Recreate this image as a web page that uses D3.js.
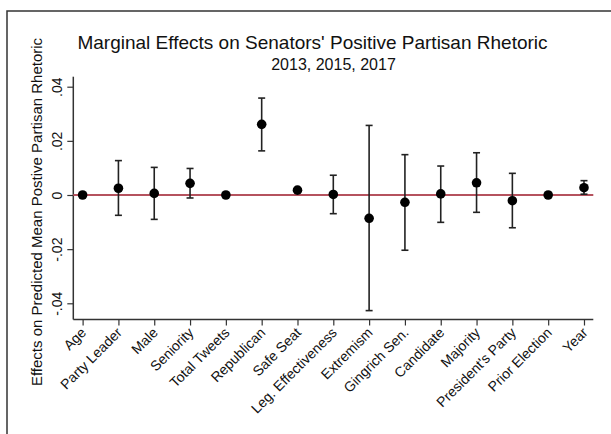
<!DOCTYPE html>
<html>
<head>
<meta charset="utf-8">
<script src="https://cdn.jsdelivr.net/npm/d3@7"></script>
<style>
  html, body { margin: 0; padding: 0; background: #fff; }
  svg { display: block; font-family: "Liberation Sans", Arial, Helvetica, sans-serif; }
</style>
</head>
<body>
<svg id="chart" width="611" height="434"></svg>
<script>
const categories = ["Age", "Party Leader", "Male", "Seniority", "Total Tweets", "Republican",
  "Safe Seat", "Leg. Effectiveness", "Extremism", "Gingrich Sen.", "Candidate", "Majority",
  "President's Party", "Prior Election", "Year"];
const estimates = [0.0000, 0.0025, 0.0006, 0.0043, 0.0000, 0.0261, 0.0018, 0.0002,
  -0.0086, -0.0027, 0.0004, 0.0045, -0.0021, 0.0000, 0.0027];
const ciUpper = [0.0000, 0.0127, 0.0102, 0.0098, 0.0000, 0.0358, 0.0018, 0.0073,
  0.0257, 0.0149, 0.0107, 0.0156, 0.0080, 0.0000, 0.0053];
const ciLower = [0.0000, -0.0075, -0.0090, -0.0011, 0.0000, 0.0163, 0.0018, -0.0069,
  -0.0427, -0.0204, -0.0101, -0.0064, -0.0121, 0.0000, 0.0003];
const yTicks = [-0.04, -0.02, 0, 0.02, 0.04];
const yTickLabels = ["-.04", "-.02", "0", ".02", ".04"];

const svg = d3.select("#chart");

// outer frame (extends past the right/bottom edge)
svg.append("rect").attr("x", 7).attr("y", 11).attr("width", 620).attr("height", 440)
  .attr("fill", "none").attr("stroke", "#333").attr("stroke-width", 1.5);

const left = 73.3, right = 593.3, yTop = 76.7, yBottom = 319.5;

const x = d3.scalePoint().domain(categories).range([left, right]).padding(0.26);
const y = d3.scaleLinear().domain([-0.04, 0.04]).range([303.3, 86.7]);

// titles
svg.append("text").attr("x", 312.5).attr("y", 48.5).attr("text-anchor", "middle")
  .attr("font-size", 19).attr("fill", "#111")
  .text("Marginal Effects on Senators' Positive Partisan Rhetoric");
svg.append("text").attr("x", 333.5).attr("y", 70).attr("text-anchor", "middle")
  .attr("font-size", 16).attr("fill", "#111").text("2013, 2015, 2017");

// y axis
const yAxis = d3.axisLeft(y).tickValues(yTicks).tickSize(6).tickPadding(5)
  .tickFormat((d, i) => yTickLabels[i]);
const gy = svg.append("g").attr("transform", `translate(${left},0)`).call(yAxis);
gy.select(".domain").remove();
gy.append("line").attr("x1", 0).attr("x2", 0).attr("y1", yTop).attr("y2", yBottom)
  .attr("stroke", "#333").attr("stroke-width", 1.5);
gy.selectAll(".tick line").attr("stroke", "#333").attr("stroke-width", 1.2);
gy.selectAll(".tick text")
  .attr("font-size", 14).attr("fill", "#111").attr("font-family", "Liberation Sans, Arial, sans-serif")
  .attr("text-anchor", "middle").attr("x", null).attr("dy", null)
  .attr("transform", "translate(-11,0) rotate(-90)");

// y axis title
svg.append("text")
  .attr("transform", "translate(42,212) rotate(-90)")
  .attr("text-anchor", "middle").attr("font-size", 15).attr("fill", "#111")
  .text("Effects on Predicted Mean Postive Partisan Rhetoric");

// x axis
const xAxis = d3.axisBottom(x).tickSize(6).tickPadding(0);
const gx = svg.append("g").attr("transform", `translate(0,${yBottom})`).call(xAxis);
gx.select(".domain").remove();
gx.append("line").attr("x1", left).attr("x2", right).attr("y1", 0).attr("y2", 0)
  .attr("stroke", "#333").attr("stroke-width", 1.5);
gx.selectAll(".tick line").attr("stroke", "#333").attr("stroke-width", 1.2);
gx.selectAll(".tick text")
  .attr("font-size", 14).attr("fill", "#111").attr("font-family", "Liberation Sans, Arial, sans-serif")
  .attr("text-anchor", "end").attr("y", null).attr("dy", null)
  .attr("transform", "translate(4,14) rotate(-45)");

// zero reference line
svg.append("line").attr("x1", left).attr("x2", right)
  .attr("y1", y(0)).attr("y2", y(0))
  .attr("stroke", "#b5525e").attr("stroke-width", 2);

// error bars
const idx = d3.range(categories.length).filter(i => ciUpper[i] - ciLower[i] > 0.0008);
const eb = svg.append("g").attr("stroke", "#222").attr("stroke-width", 1.6);
eb.selectAll("line.v").data(idx).join("line").attr("class", "v")
  .attr("x1", i => x(categories[i])).attr("x2", i => x(categories[i]))
  .attr("y1", i => y(ciUpper[i])).attr("y2", i => y(ciLower[i]));
eb.selectAll("line.t").data(idx).join("line").attr("class", "t")
  .attr("x1", i => x(categories[i]) - 3.5).attr("x2", i => x(categories[i]) + 3.5)
  .attr("y1", i => y(ciUpper[i])).attr("y2", i => y(ciUpper[i]));
eb.selectAll("line.b").data(idx).join("line").attr("class", "b")
  .attr("x1", i => x(categories[i]) - 3.5).attr("x2", i => x(categories[i]) + 3.5)
  .attr("y1", i => y(ciLower[i])).attr("y2", i => y(ciLower[i]));

// points
svg.append("g").selectAll("circle").data(categories).join("circle")
  .attr("cx", d => x(d)).attr("cy", (d, i) => y(estimates[i]))
  .attr("r", 4.8).attr("fill", "#000");
</script>
</body>
</html>
